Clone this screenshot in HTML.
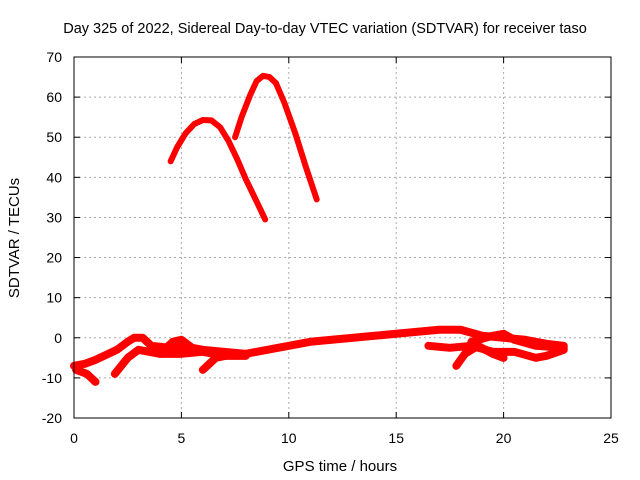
<!DOCTYPE html>
<html><head><meta charset="utf-8"><style>
body{margin:0;background:#fff}
svg{display:block;font-family:"Liberation Sans",sans-serif}
</style></head><body>
<svg id="c" width="640" height="480">
<text x="325" y="33" text-anchor="middle" font-size="14.5">Day 325 of 2022, Sidereal Day-to-day VTEC variation (SDTVAR) for receiver taso</text>
<text x="340" y="471" text-anchor="middle" font-size="15">GPS time / hours</text>
<text transform="translate(19,238) rotate(-90)" text-anchor="middle" font-size="15">SDTVAR / TECUs</text>
<g id="grid"></g><g id="series"></g>
<rect x="74" y="57" width="537" height="361" fill="none" stroke="#000" stroke-width="1"/>
</svg>
<script>
const xTicks=[0,5,10,15,20,25];
const yTicks=[-20,-10,0,10,20,30,40,50,60,70];
const arc1=[[4.5,44],[4.8,47.5],[5.2,51],[5.6,53.3],[6,54.3],[6.4,54.2],[6.8,52.5],[7.2,49],[7.6,44.5],[8,39.5],[8.5,34],[8.9,29.5]];
const arc2=[[7.5,50],[7.8,55],[8.2,60.5],[8.5,64],[8.8,65.3],[9.1,65],[9.4,63.5],[9.8,58.5],[10.3,51],[10.8,42.5],[11.3,34.5]];
const main=[[0,-7],[0.5,-6.5],[1,-5.5],[2,-3],[2.5,-1],[2.8,0],[3.2,0],[3.6,-2],[4.5,-2.5],[5,-2],[6,-3],[7,-3.5],[8,-4],[9,-3],[10,-2],[11,-1],[12,-0.5],[13,0],[14,0.5],[15,1],[16,1.5],[17,2],[18,2],[19,0.5],[20,0],[21,-0.5],[22,-1.5],[22.8,-2]];
const low1=[[0.1,-8],[0.6,-9],[1,-11]];
const low2=[[1.9,-9],[2.5,-5],[3,-3],[4,-4],[5,-4],[6,-3.5],[7,-4.5],[8,-4.5]];
const low3=[[4,-4],[4.6,-1],[5,-0.5],[5.5,-2.5]];
const low4=[[6,-8],[6.6,-5],[7.5,-4]];
const low5=[[17.8,-7],[18.2,-4],[18.8,-2],[19.5,-4],[20,-5]];
const low6=[[16.5,-2],[17.5,-2.5],[18.5,-2],[19.5,-3.5],[20.5,-3.5],[21.5,-5],[22,-4.5],[22.8,-3]];
const low7=[[18.5,-1],[19.5,0.5],[20,1],[20.5,-0.5],[21.5,-2],[22.8,-2.5]];
const allSeries=[arc1,arc2,main,low1,low2,low3,low4,low5,low6,low7];
const X=h=>74+h*(537/25), Y=v=>418-(v+20)*(361/90);
const NS='http://www.w3.org/2000/svg';
const grid=document.getElementById('grid'), ser=document.getElementById('series'), svg=document.getElementById('c');
function mk(t,a,p){const e=document.createElementNS(NS,t);for(const k in a)e.setAttribute(k,a[k]);p.appendChild(e);return e;}
xTicks.forEach(t=>{
 if(t>0&&t<25){const l=mk('line',{x1:X(t),x2:X(t),y1:57,y2:418,stroke:'#aaa','stroke-dasharray':'2,3'},grid);
 
 }
 mk('line',{x1:X(t),x2:X(t),y1:418,y2:412,stroke:'#000'},grid);
 mk('line',{x1:X(t),x2:X(t),y1:57,y2:63,stroke:'#000'},grid);
 const tx=mk('text',{x:X(t),y:443,'text-anchor':'middle','font-size':14},svg);tx.textContent=t;
 
 
});
yTicks.forEach(t=>{
 if(t>-20&&t<70){const l=mk('line',{x1:74,x2:611,y1:Y(t),y2:Y(t),stroke:'#aaa','stroke-dasharray':'2,3'},grid);
 
 }
 mk('line',{x1:74,x2:80,y1:Y(t),y2:Y(t),stroke:'#000'},grid);
 mk('line',{x1:611,x2:605,y1:Y(t),y2:Y(t),stroke:'#000'},grid);
 const tx=mk('text',{x:62,y:Y(t)+5,'text-anchor':'end','font-size':14},svg);tx.textContent=t;
 
 
});
allSeries.forEach((s,i)=>{
 const p=mk('polyline',{points:s.map(d=>X(d[0])+','+Y(d[1])).join(' '),fill:'none',stroke:'#f00','stroke-width':(i<2?6:8),'stroke-linejoin':'round','stroke-linecap':'round'},ser);
 
 
});
</script>
</body></html>
